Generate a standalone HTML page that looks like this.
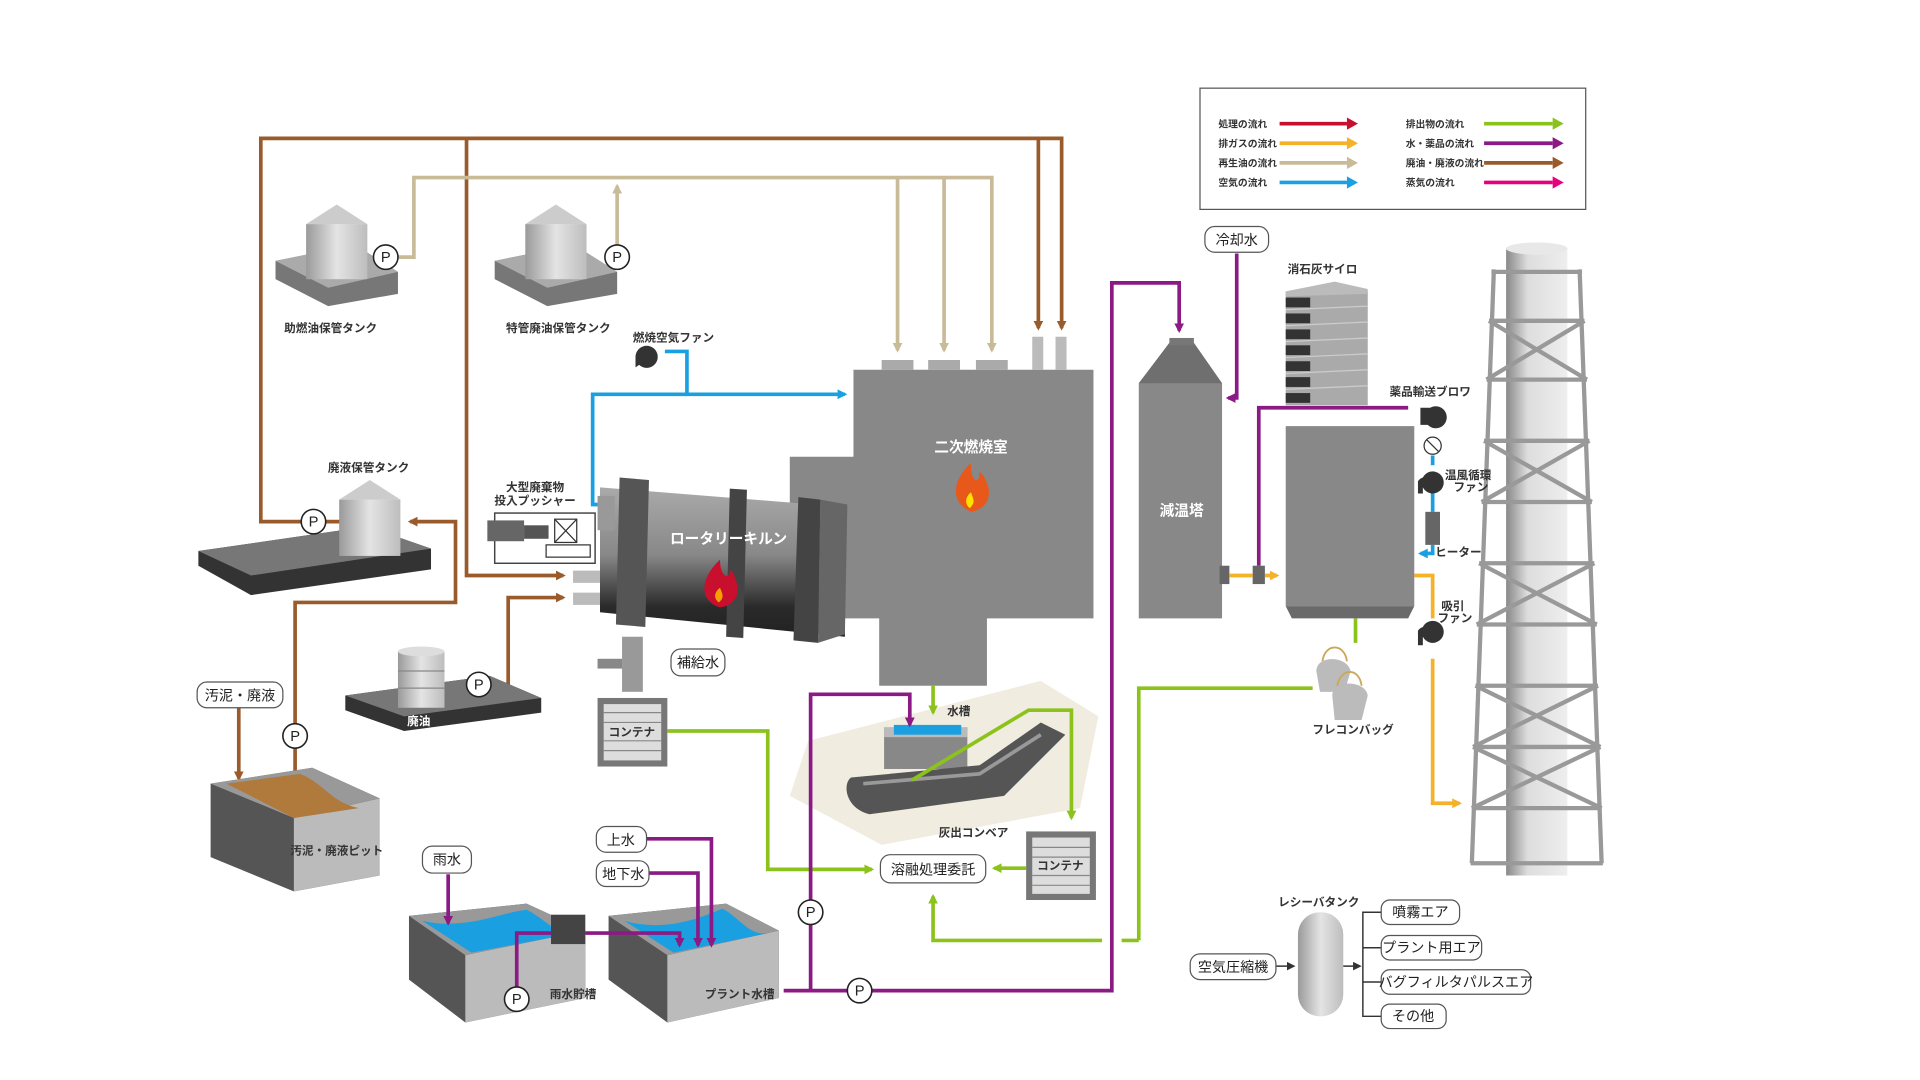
<!DOCTYPE html>
<html><head><meta charset="utf-8"><style>
html,body{margin:0;padding:0;background:#fff;}
svg{display:block;}
text{font-family:"Liberation Sans","Noto Sans CJK JP",sans-serif;}
.lb{font-size:9.5px;font-weight:bold;fill:#333;}
.lg{font-size:8px;font-weight:bold;fill:#333;}
.wt{font-size:12px;font-weight:bold;fill:#fff;}
.bx{font-size:11.5px;fill:#222;}
</style></head><body>
<svg width="1920" height="1080" viewBox="0 0 1568 882" preserveAspectRatio="none" xmlns="http://www.w3.org/2000/svg">
<defs>
<marker id="ab" markerWidth="8" markerHeight="8" refX="6" refY="4" orient="auto" markerUnits="userSpaceOnUse"><path d="M0,0 L8,4 L0,8 z" fill="#9a5b2c"/></marker>
<marker id="ae" markerWidth="8" markerHeight="8" refX="6" refY="4" orient="auto" markerUnits="userSpaceOnUse"><path d="M0,0 L8,4 L0,8 z" fill="#c9bb98"/></marker>
<marker id="ac" markerWidth="8" markerHeight="8" refX="6" refY="4" orient="auto" markerUnits="userSpaceOnUse"><path d="M0,0 L8,4 L0,8 z" fill="#1aa0e0"/></marker>
<marker id="ag" markerWidth="8" markerHeight="8" refX="6" refY="4" orient="auto" markerUnits="userSpaceOnUse"><path d="M0,0 L8,4 L0,8 z" fill="#8cc21c"/></marker>
<marker id="ap" markerWidth="8" markerHeight="8" refX="6" refY="4" orient="auto" markerUnits="userSpaceOnUse"><path d="M0,0 L8,4 L0,8 z" fill="#8b1a85"/></marker>
<marker id="ao" markerWidth="8" markerHeight="8" refX="6" refY="4" orient="auto" markerUnits="userSpaceOnUse"><path d="M0,0 L8,4 L0,8 z" fill="#f5b228"/></marker>
<marker id="ak" markerWidth="7" markerHeight="7" refX="5" refY="3.5" orient="auto" markerUnits="userSpaceOnUse"><path d="M0,0 L7,3.5 L0,7 z" fill="#333"/></marker>
<linearGradient id="kiln" x1="0" y1="0" x2="0" y2="1"><stop offset="0" stop-color="#aaa"/><stop offset="0.45" stop-color="#888"/><stop offset="0.8" stop-color="#2a2a2a"/><stop offset="1" stop-color="#222"/></linearGradient>
<linearGradient id="cyl" x1="0" y1="0" x2="1" y2="0"><stop offset="0" stop-color="#9a9a9a"/><stop offset="0.5" stop-color="#e4e4e4"/><stop offset="1" stop-color="#bdbdbd"/></linearGradient>
<linearGradient id="stk" x1="0" y1="0" x2="1" y2="0"><stop offset="0" stop-color="#888"/><stop offset="0.35" stop-color="#ddd"/><stop offset="1" stop-color="#eee"/></linearGradient>
</defs>

<rect x="980" y="72" width="315" height="99" fill="#fff" stroke="#555" stroke-width="1"/>
<g class="lg">
<text x="995" y="104">処理の流れ</text><text x="995" y="120">排ガスの流れ</text><text x="995" y="136">再生油の流れ</text><text x="995" y="152">空気の流れ</text>
<text x="1148" y="104">排出物の流れ</text><text x="1148" y="120">水・薬品の流れ</text><text x="1148" y="136">廃油・廃液の流れ</text><text x="1148" y="152">蒸気の流れ</text>
</g>
<g stroke-width="3">
<line x1="1045" y1="101" x2="1100" y2="101" stroke="#c8102e"/><path d="M1100,96 L1109,101 L1100,106z" fill="#c8102e"/>
<line x1="1045" y1="117" x2="1100" y2="117" stroke="#f5b228"/><path d="M1100,112 L1109,117 L1100,122z" fill="#f5b228"/>
<line x1="1045" y1="133" x2="1100" y2="133" stroke="#c9bb98"/><path d="M1100,128 L1109,133 L1100,138z" fill="#c9bb98"/>
<line x1="1045" y1="149" x2="1100" y2="149" stroke="#1aa0e0"/><path d="M1100,144 L1109,149 L1100,154z" fill="#1aa0e0"/>
<line x1="1212" y1="101" x2="1268" y2="101" stroke="#8cc21c"/><path d="M1268,96 L1277,101 L1268,106z" fill="#8cc21c"/>
<line x1="1212" y1="117" x2="1268" y2="117" stroke="#8b1a85"/><path d="M1268,112 L1277,117 L1268,122z" fill="#8b1a85"/>
<line x1="1212" y1="133" x2="1268" y2="133" stroke="#9a5b2c"/><path d="M1268,128 L1277,133 L1268,138z" fill="#9a5b2c"/>
<line x1="1212" y1="149" x2="1268" y2="149" stroke="#e6007e"/><path d="M1268,144 L1277,149 L1268,154z" fill="#e6007e"/>
</g>

<rect x="1230" y="203" width="50" height="512" fill="url(#stk)"/>
<ellipse cx="1255" cy="203" rx="25" ry="5" fill="#e8e8e8"/>
<g stroke="#999" stroke-width="3.5" fill="none">
<path d="M1220,220 L1202,705 M1290,220 L1308,705"/>
<path d="M1218,222 H1292 M1216,262 H1294 M1214,310 H1296 M1212,360 H1298 M1210,410 H1300 M1208,460 H1302 M1206,510 H1304 M1205,560 H1305 M1203,610 H1307 M1202,660 H1308 M1201,705 H1309"/>
<path d="M1216,262 L1296,310 M1294,262 L1214,310 M1212,360 L1300,410 M1298,360 L1210,410 M1208,460 L1304,510 M1302,460 L1206,510 M1205,560 L1307,610 M1305,560 L1203,610 M1203,610 L1308,660 M1307,610 L1202,660"/>
</g>

<g stroke="#9a5b2c" stroke-width="3" fill="none">
<path d="M250,426 H213 V113 H867 V268" marker-end="url(#ab)"/>
<path d="M848,113 V268" marker-end="url(#ab)"/>
<path d="M381,113 V470 H460" marker-end="url(#ab)"/>
<path d="M241,635 V492 H372 V426 H335" marker-end="url(#ab)"/>
<path d="M195,578 V636" marker-end="url(#ab)"/>
<path d="M400,559 H415 V488 H460" marker-end="url(#ab)"/>
<path d="M266,426 H295"/>
</g>
<g stroke="#c9bb98" stroke-width="3" fill="none">
<path d="M325,210 H338 V145 H810 V286" marker-end="url(#ae)"/>
<path d="M733,145 V286" marker-end="url(#ae)"/><path d="M771,145 V286" marker-end="url(#ae)"/>
<path d="M514,210 H504 V152" marker-end="url(#ae)"/>
</g>
<g stroke="#1aa0e0" stroke-width="3" fill="none">
<path d="M543,287 H561 V322 H690" marker-end="url(#ac)"/>
<path d="M561,322 H484 V412 H492"/>
<path d="M1170,372 V380 M1170,402 V418 M1170,445 V452 H1160" marker-end="url(#ac)"/>
</g>

<g>
<path d="M225,213 L290,200 L325,222 L325,240 L268,250 L225,228z" fill="#777"/>
<path d="M225,213 L290,200 L325,222 L268,235z" fill="#aaa"/>
<rect x="250" y="183" width="50" height="45" fill="url(#cyl)"/><path d="M250,183 L275,167 L300,183z" fill="#ccc"/>
<path d="M404,213 L469,200 L504,222 L504,240 L447,250 L404,228z" fill="#777"/>
<path d="M404,213 L469,200 L504,222 L447,235z" fill="#aaa"/>
<rect x="429" y="183" width="50" height="45" fill="url(#cyl)"/><path d="M429,183 L454,167 L479,183z" fill="#ccc"/>
<path d="M162,450 L300,430 L352,448 L352,465 L205,486 L162,462z" fill="#333"/>
<path d="M162,450 L300,430 L352,448 L205,470z" fill="#777"/>
<rect x="277" y="408" width="50" height="46" fill="url(#cyl)"/><path d="M277,408 L302,392 L327,408z" fill="#ccc"/>
<path d="M282,568 L400,552 L442,570 L442,582 L330,597 L282,580z" fill="#333"/>
<path d="M282,568 L400,552 L442,570 L330,585z" fill="#777"/>
<rect x="325" y="532" width="38" height="46" fill="url(#cyl)"/><ellipse cx="344" cy="532" rx="19" ry="4" fill="#ddd"/>
<line x1="325" y1="548" x2="363" y2="548" stroke="#888"/><line x1="325" y1="562" x2="363" y2="562" stroke="#888"/>
</g>
<g class="lb"><text x="270" y="271" text-anchor="middle">助燃油保管タンク</text><text x="456" y="271" text-anchor="middle">特管廃油保管タンク</text><text x="301" y="385" text-anchor="middle">廃液保管タンク</text><text x="342" y="592" text-anchor="middle" fill="#fff">廃油</text><text x="550" y="279" text-anchor="middle">燃焼空気ファン</text><text x="437" y="401" text-anchor="middle">大型廃棄物</text><text x="437" y="412" text-anchor="middle">投入プッシャー</text></g>

<path d="M172,640 L255,627 L310,652 L310,715 L240,728 L172,700z" fill="#555"/>
<path d="M240,668 L310,652 L310,715 L240,728z" fill="#bbb"/>
<path d="M172,640 L255,627 L310,652 L240,668z" fill="#999"/>
<path d="M185,640 L245,632 C265,640 270,655 293,660 L240,668z" fill="#b07a3c"/>
<text class="lb" x="275" y="698" text-anchor="middle">汚泥・廃液ピット</text>

<path d="M334,748 L430,738 L478,760 L478,815 L380,835 L334,800z" fill="#555"/>
<path d="M380,780 L478,760 L478,815 L380,835z" fill="#bbb"/>
<path d="M334,748 L430,738 L478,760 L380,780z" fill="#999"/>
<path d="M345,752 C380,760 410,745 430,743 C445,750 455,765 470,762 L385,778z" fill="#1aa0e0"/>
<path d="M497,748 L593,738 L636,760 L636,815 L545,835 L497,800z" fill="#555"/>
<path d="M545,780 L636,760 L636,815 L545,835z" fill="#bbb"/>
<path d="M497,748 L593,738 L636,760 L545,780z" fill="#999"/>
<path d="M510,752 C545,762 575,748 590,742 C605,750 612,765 628,762 L550,778z" fill="#1aa0e0"/>
<rect x="450" y="747" width="28" height="24" fill="#444"/>
<g class="lb"><text x="468" y="815" text-anchor="middle">雨水貯槽</text><text x="604" y="815" text-anchor="middle">プラント水槽</text></g>

<path d="M697,302 H893 V505 H806 V560 H718 V505 H645 V373 H697z" fill="#888"/>
<rect x="720" y="294" width="26" height="8" fill="#aaa"/><rect x="758" y="294" width="26" height="8" fill="#aaa"/><rect x="797" y="294" width="26" height="8" fill="#aaa"/>
<rect x="843" y="275" width="9" height="27" fill="#bbb"/><rect x="862" y="275" width="9" height="27" fill="#bbb"/>
<text class="wt" x="793" y="369" text-anchor="middle">二次燃焼室</text>
<path d="M793,418 C775,410 778,392 793,378 C792,392 800,398 800,385 C812,398 810,415 793,418z" fill="#e8581a"/>
<path d="M792,415 C787,411 789,405 793,402 C795,408 797,410 792,415z" fill="#ffe000"/>

<path d="M490,398 L690,414 L690,520 L490,500z" fill="url(#kiln)"/>
<path d="M506,390 L530,392 L527,512 L503,510z" fill="#555"/>
<path d="M596,399 L610,400 L607,521 L593,520z" fill="#444"/>
<path d="M652,406 L670,408 L668,525 L648,523z" fill="#444"/>
<path d="M670,408 L692,412 L690,518 L668,525z" fill="#666"/>
<rect x="488" y="405" width="14" height="28" fill="#999"/>
<text class="wt" x="595" y="444" text-anchor="middle">ロータリーキルン</text>
<path d="M588,496 C570,490 572,472 588,457 C588,470 595,475 597,465 C606,480 604,494 588,496z" fill="#c8102e"/>
<path d="M587,492 C582,488 584,483 588,480 C590,485 592,488 587,492z" fill="#f5a000"/>
<rect x="468" y="466" width="22" height="10" fill="#bbb"/><rect x="468" y="484" width="22" height="10" fill="#bbb"/>
<rect x="404" y="419" width="82" height="41" fill="none" stroke="#444" stroke-width="1.2"/>
<rect x="398" y="425" width="30" height="17" fill="#666"/><rect x="428" y="429" width="20" height="11" fill="#555"/>
<rect x="453" y="424" width="18" height="19" fill="#fff" stroke="#333"/><path d="M453,424 L471,443 M471,424 L453,443" stroke="#333"/>
<rect x="446" y="445" width="36" height="10" fill="#fff" stroke="#333"/>
<rect x="508" y="520" width="17" height="45" fill="#999"/><rect x="488" y="538" width="20" height="8" fill="#888"/>
<rect x="488" y="570" width="57" height="56" fill="#777"/><rect x="493" y="575" width="47" height="46" fill="#ddd"/>
<g stroke="#888"><line x1="493" y1="582" x2="540" y2="582"/><line x1="493" y1="590" x2="540" y2="590"/><line x1="493" y1="605" x2="540" y2="605"/><line x1="493" y1="613" x2="540" y2="613"/></g>
<text class="lb" x="516" y="601" text-anchor="middle">コンテナ</text>
<rect x="838" y="679" width="57" height="56" fill="#777"/><rect x="843" y="684" width="47" height="46" fill="#ddd"/>
<g stroke="#888"><line x1="843" y1="692" x2="890" y2="692"/><line x1="843" y1="700" x2="890" y2="700"/><line x1="843" y1="715" x2="890" y2="715"/><line x1="843" y1="723" x2="890" y2="723"/></g>
<text class="lb" x="866" y="710" text-anchor="middle">コンテナ</text>

<path d="M660,605 L850,556 L897,585 L882,660 L720,690 L645,650z" fill="#f0ece0"/>
<rect x="722" y="594" width="68" height="34" fill="#888"/><rect x="722" y="594" width="68" height="8" fill="#bbb"/><rect x="730" y="592" width="55" height="8" fill="#1aa0e0"/>
<path d="M695,635 L800,625 L850,590 L870,600 L820,650 L710,665 C690,660 688,640 695,635z" fill="#555"/>
<path d="M705,640 L800,632 L850,600" stroke="#999" stroke-width="3" fill="none"/>
<text class="lb" x="783" y="584" text-anchor="middle">水槽</text>
<text class="lb" x="795" y="683" text-anchor="middle">灰出コンベア</text>

<g stroke="#8cc21c" stroke-width="3" fill="none">
<path d="M545,597 H627 V710 H712" marker-end="url(#ag)"/>
<path d="M838,709 H812" marker-end="url(#ag)"/>
<path d="M900,768 H762 V732" marker-end="url(#ag)"/>
<path d="M930,768 H916"/>
<path d="M930,768 V562 H1072"/>
<path d="M762,560 V582" marker-end="url(#ag)"/>
<path d="M745,637 L840,580 H875 V668" marker-end="url(#ag)"/>
<path d="M1107,505 V525"/>
</g>
<path d="M1075,548 C1075,535 1100,535 1103,548 L1098,565 L1078,565z" fill="#bbb"/>
<path d="M1088,568 C1088,555 1115,555 1117,568 L1112,588 L1090,588z" fill="#bbb"/>
<path d="M1080,540 C1082,525 1098,525 1100,540 M1092,560 C1095,545 1110,545 1112,560" stroke="#c9a85a" stroke-width="1.5" fill="none"/>
<text class="lb" x="1105" y="599" text-anchor="middle">フレコンバッグ</text>

<g stroke="#8b1a85" stroke-width="3" fill="none">
<path d="M640,809 H908 V231 H963 V270" marker-end="url(#ap)"/>
<path d="M662,809 V567 H743 V592" marker-end="url(#ap)"/>
<path d="M1010,207 V325 H1003" marker-end="url(#ap)"/>
<path d="M1028,462 V333 H1150"/>
<path d="M366,714 V754" marker-end="url(#ap)"/>
<path d="M528,685 H581 V772" marker-end="url(#ap)"/>
<path d="M530,713 H570 V772" marker-end="url(#ap)"/>
<path d="M478,762 H555 V772" marker-end="url(#ap)"/>
<path d="M422,806 V762 H450"/>
</g>

<path d="M930,313 L955,280 L975,280 L998,313 V505 H930z" fill="#888"/>
<path d="M930,313 L955,280 L975,280 L998,313z" fill="#6f6f6f"/>
<rect x="955" y="276" width="20" height="6" fill="#777"/>
<text class="wt" x="965" y="421" text-anchor="middle">減温塔</text>
<rect x="996" y="462" width="8" height="15" fill="#666"/><rect x="1023" y="462" width="10" height="15" fill="#666"/>
<g stroke="#f5b228" stroke-width="3" fill="none">
<path d="M1004,470 H1023 M1033,470 H1043" marker-end="url(#ao)"/>
<path d="M1155,470 H1170 V505 M1170,538 V656 H1192" marker-end="url(#ao)"/>
</g>
<rect x="1050" y="348" width="105" height="147" fill="#888"/>
<path d="M1050,495 H1155 L1150,505 H1055z" fill="#6a6a6a"/>
<g>
<rect x="1050" y="238" width="67" height="93" fill="#aaa"/>
<g fill="#333"><rect x="1050" y="243" width="20" height="8"/><rect x="1050" y="256" width="20" height="8"/><rect x="1050" y="269" width="20" height="8"/><rect x="1050" y="282" width="20" height="8"/><rect x="1050" y="295" width="20" height="8"/><rect x="1050" y="308" width="20" height="8"/><rect x="1050" y="321" width="20" height="8"/></g>
<g stroke="#ccc"><line x1="1050" y1="253" x2="1117" y2="250"/><line x1="1050" y1="266" x2="1117" y2="263"/><line x1="1050" y1="279" x2="1117" y2="276"/><line x1="1050" y1="292" x2="1117" y2="289"/><line x1="1050" y1="305" x2="1117" y2="302"/><line x1="1050" y1="318" x2="1117" y2="315"/></g>
<path d="M1050,238 L1090,230 L1117,236 L1117,240 L1050,242z" fill="#bbb"/>
</g>
<g fill="#333">
<path d="M525,283 a9,9 0 1 1 -3,15 l-3,2 v-9 a9,9 0 0 1 6,-8z"/>
<path d="M1160,333 h8 a9,9 0 1 1 -2,14 l-6,0z"/>
<path d="M1162,390 a9,9 0 1 1 0,8 v5 h-4 v-10 a8,8 0 0 1 4,-3z"/>
<path d="M1162,512 a9,9 0 1 1 0,8 v7 h-4 v-12 a8,8 0 0 1 4,-3z"/>
</g>
<rect x="1164" y="418" width="12" height="27" fill="#666"/>
<circle cx="1170" cy="364" r="7" fill="#fff" stroke="#333"/><line x1="1165" y1="359" x2="1175" y2="369" stroke="#333"/>
<g class="lb"><text x="1080" y="223" text-anchor="middle">消石灰サイロ</text><text x="1168" y="323" text-anchor="middle">薬品輸送ブロワ</text><text x="1180" y="391">温風循環</text><text x="1187" y="401">ファン</text><text x="1172" y="454">ヒーター</text><text x="1177" y="498">吸引</text><text x="1174" y="508">ファン</text><text x="1077" y="740" text-anchor="middle">レシーバタンク</text></g>

<rect x="1060" y="745" width="37" height="85" rx="18" fill="url(#cyl)"/>
<g stroke="#333" stroke-width="1.2" fill="none">
<path d="M1042,789 H1056" marker-end="url(#ak)"/><path d="M1097,789 H1110" marker-end="url(#ak)"/>
<path d="M1128,745 H1113 V830 H1128 M1113,774 H1128 M1113,802 H1128"/>
</g>

<g fill="#fff" stroke="#555" stroke-width="1">
<rect x="984" y="185" width="52" height="21" rx="8"/>
<rect x="548" y="530" width="44" height="22" rx="8"/>
<rect x="161" y="557" width="70" height="21" rx="8"/>
<rect x="345" y="691" width="40" height="22" rx="8"/>
<rect x="487" y="675" width="41" height="21" rx="8"/>
<rect x="487" y="703" width="43" height="21" rx="8"/>
<rect x="719" y="698" width="86" height="23" rx="8"/>
<rect x="972" y="779" width="70" height="21" rx="8"/>
<rect x="1128" y="735" width="64" height="20" rx="7"/>
<rect x="1128" y="764" width="82" height="20" rx="7"/>
<rect x="1128" y="792" width="122" height="20" rx="7"/>
<rect x="1128" y="820" width="53" height="20" rx="7"/>
</g>
<g class="bx" text-anchor="middle">
<text x="1010" y="200">冷却水</text><text x="570" y="545">補給水</text><text x="196" y="572">汚泥・廃液</text><text x="365" y="706">雨水</text><text x="507" y="690">上水</text><text x="509" y="718">地下水</text><text x="762" y="714">溶融処理委託</text><text x="1007" y="794">空気圧縮機</text><text x="1160" y="749">噴霧エア</text><text x="1169" y="778">プラント用エア</text><text x="1189" y="806">バグフィルタパルスエア</text><text x="1154" y="834">その他</text>
</g>

<g fill="#fff" stroke="#222" stroke-width="1.3">
<circle cx="315" cy="210" r="10"/><circle cx="504" cy="210" r="10"/><circle cx="256" cy="426" r="10"/><circle cx="391" cy="559" r="10"/><circle cx="241" cy="601" r="10"/><circle cx="662" cy="745" r="10"/><circle cx="702" cy="809" r="10"/><circle cx="422" cy="816" r="10"/>
</g>
<g font-size="12" font-family="Liberation Sans" text-anchor="middle" fill="#222">
<text x="315" y="214">P</text><text x="504" y="214">P</text><text x="256" y="430">P</text><text x="391" y="563">P</text><text x="241" y="605">P</text><text x="662" y="749">P</text><text x="702" y="813">P</text><text x="422" y="820">P</text>
</g>
</svg>
</body></html>
